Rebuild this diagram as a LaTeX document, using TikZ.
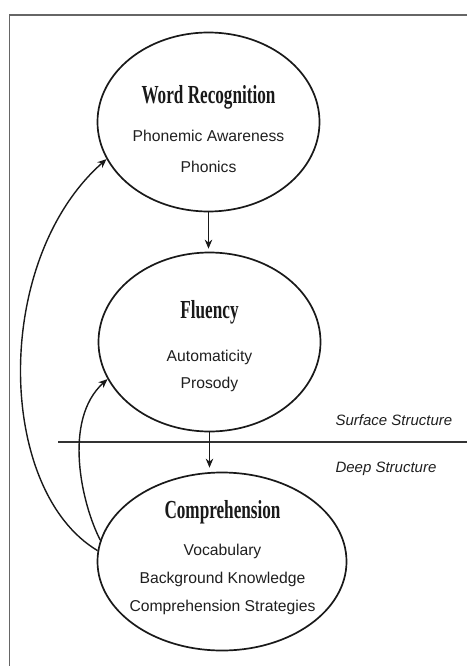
\documentclass[tikz,border=0pt]{standalone}
\usepackage{fontspec}
\setmainfont{Liberation Sans}
\newfontfamily\titlefont[FakeStretch=0.66]{Liberation Serif}
\usetikzlibrary{shapes.geometric, arrows.meta}
\begin{document}
\begin{tikzpicture}[x=1pt,y=-1pt,
  bubble/.style={draw=black!90, line width=1.7pt, ellipse, inner sep=0pt},
  titletext/.style={anchor=base, font=\titlefont\bfseries\fontsize{26}{26}\selectfont, text=black!90},
  itemtext/.style={anchor=base, font=\fontsize{15.7}{16}\selectfont, text=black!88},
  levtext/.style={anchor=base west, font=\itshape\fontsize{15}{16}\selectfont, text=black!88},
  conn/.style={line width=1.4pt, draw=black!90, -{Stealth[length=9pt,width=7.5pt]}},
  framestyle/.style={line width=1.3pt, draw=black!60},
  divider/.style={line width=1.1pt, draw=black!80}]

\useasboundingbox (0,0) rectangle (467,666);

% frame
\coordinate (ftl) at (9.5,15);
\coordinate (ftr) at (467,15);
\coordinate (fbl) at (9.5,666);
\draw[framestyle] (ftr) -- (ftl) -- (fbl);

% divider line
\coordinate (hl) at (58,442);
\coordinate (hr) at (467,442);
\draw[divider] (hl) -- (hr);

% ellipses
\node[bubble, minimum width=222pt, minimum height=179pt] (wr) at (208.5,122) {};
\node[bubble, minimum width=222pt, minimum height=179pt] (fl) at (209.5,342) {};
\node[bubble, minimum width=249pt, minimum height=178pt] (co) at (222,561.5) {};

% texts
\node[titletext] (wrt) at (208.5,103) {Word Recognition};
\node[itemtext] (wr1) at (208.5,141) {Phonemic Awareness};
\node[itemtext] (wr2) at (208.5,172) {Phonics};

\node[titletext] (flt) at (209.5,318) {Fluency};
\node[itemtext] (fl1) at (209.5,361) {Automaticity};
\node[itemtext] (fl2) at (209.5,388) {Prosody};

\node[titletext] (cot) at (222.5,518) {Comprehension};
\node[itemtext] (co1) at (222.5,555) {Vocabulary};
\node[itemtext] (co2) at (222.5,583) {Background Knowledge};
\node[itemtext] (co3) at (222.5,611) {Comprehension Strategies};

\node[levtext] (surf) at (332,425) {Surface Structure};
\node[levtext] (deep) at (332,472) {Deep Structure};

% connectors
\draw[conn, shorten >=3pt] (wr.south) -- (wr.south |- fl.north);
\draw[conn, shorten >=4pt] (fl.south) -- (fl.south |- co.north);
\draw[conn] (co.175) .. controls (-4,490) and (-8,260) .. (wr.200);
\draw[conn] (co.170) .. controls (82,505) and (62,420) .. (fl.200);
\end{tikzpicture}
\end{document}
